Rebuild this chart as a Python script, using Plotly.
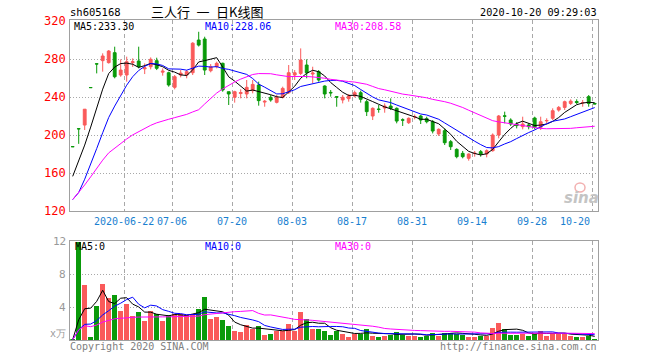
import pandas as pd
import plotly.graph_objects as go

# ---------------- data ----------------
# trading-day index 0..87 (2020-06-09 .. 2020-10-20)
tick_idx = [9, 17, 27, 37, 47, 57, 67, 77, 87]
tick_labels = ["2020-06-22", "07-06", "07-20", "08-03", "08-17", "08-31", "09-14", "09-28", "10-20"]

open_ = [188.1, 207.0, 210.8, 250.3, 275.3, 278.6, 276.5, 287.0, 263.5, 263.5,
         276.5, 278.2, 270.0, 272.2, 278.6, 266.5, 265.9, 250.5, 263.5, 263.5,
         265.9, 300.3, 301.4, 268.0, 272.2, 275.8, 245.9, 240.0, 244.0, 243.5,
         247.0, 253.0, 235.0, 240.0, 234.7, 240.0, 244.9, 263.5, 265.2, 274.0,
         264.5, 267.0, 251.9, 245.2, 240.7, 237.2, 238.6, 241.4, 244.9, 235.4,
         220.3, 227.6, 228.7, 230.8, 228.4, 216.3, 213.3, 219.4, 220.3, 217.5,
         214.3, 201.4, 204.9, 193.3, 185.2, 181.0, 175.8, 180.8, 182.8, 180.3,
         183.8, 200.3, 220.5, 216.1, 211.9, 209.1, 210.9, 218.2, 208.4, 215.2,
         217.9, 226.6, 229.4, 233.6, 235.6, 234.2, 240.7, 233.6]
high = [188.1, 207.0, 227.6, 250.3, 275.3, 286.3, 289.8, 293.3, 280.0, 282.8,
        281.0, 293.3, 275.7, 282.0, 281.7, 270.5, 267.0, 263.5, 268.7, 268.7,
        298.0, 309.0, 303.8, 275.0, 277.5, 276.5, 245.9, 246.9, 248.4, 258.2,
        258.2, 256.5, 237.2, 242.4, 242.4, 251.2, 274.0, 268.7, 291.5, 280.0,
        272.2, 268.7, 252.6, 247.7, 241.4, 242.4, 243.5, 247.0, 247.0, 237.2,
        229.4, 231.9, 233.6, 238.9, 229.4, 217.9, 218.9, 222.0, 221.4, 219.6,
        216.1, 207.3, 207.3, 195.0, 186.3, 183.5, 181.0, 183.5, 184.5, 185.2,
        202.0, 221.4, 224.9, 217.9, 213.9, 219.6, 212.6, 219.6, 219.6, 217.9,
        228.4, 230.8, 236.5, 237.9, 237.9, 237.2, 242.4, 233.6]
low = [188.0, 191.0, 205.6, 250.2, 265.2, 267.0, 275.5, 260.0, 261.7, 256.5,
       272.0, 270.5, 264.5, 269.4, 268.7, 262.8, 251.2, 248.4, 261.0, 260.0,
       263.5, 293.5, 263.5, 266.3, 270.5, 245.9, 231.9, 234.4, 238.9, 238.9,
       244.2, 231.2, 230.1, 235.4, 233.6, 238.9, 243.5, 258.2, 263.5, 260.0,
       254.7, 256.5, 238.9, 240.7, 230.1, 233.6, 235.4, 240.0, 234.4, 220.3,
       216.1, 223.8, 223.8, 226.6, 212.6, 209.8, 211.9, 216.8, 211.9, 212.6,
       202.0, 199.3, 189.8, 184.5, 175.8, 175.8, 173.3, 177.5, 177.5, 176.8,
       182.8, 196.8, 212.6, 209.8, 207.3, 206.3, 206.3, 206.3, 205.6, 212.6,
       216.1, 224.9, 226.6, 231.9, 232.9, 230.1, 230.1, 233.0]
close = [188.0, 206.8, 227.5, 250.2, 275.1, 283.5, 288.7, 261.7, 268.7, 277.5,
         277.5, 272.2, 271.0, 280.0, 270.5, 267.5, 253.0, 261.7, 265.5, 267.0,
         297.0, 295.0, 268.7, 272.2, 275.8, 247.7, 243.5, 245.9, 245.0, 250.5,
         253.6, 236.5, 235.8, 237.2, 240.0, 249.4, 265.9, 265.9, 279.3, 265.9,
         265.5, 258.2, 243.5, 244.7, 240.2, 240.0, 241.4, 244.9, 237.9, 224.9,
         228.4, 227.3, 230.8, 228.4, 215.0, 216.0, 217.9, 219.7, 216.1, 214.3,
         204.5, 206.3, 192.2, 188.0, 177.5, 177.5, 180.3, 181.1, 180.3, 183.8,
         200.3, 220.3, 220.1, 211.9, 210.2, 211.9, 209.1, 208.4, 214.3, 215.6,
         225.9, 229.4, 235.4, 236.0, 234.5, 234.5, 233.5, 233.0]
volume = [0.16, 12.0, 6.76, 0.4, 4.2, 6.88, 5.16, 5.56, 3.64, 4.48,
          3.0, 3.48, 2.44, 3.6, 3.24, 2.44, 3.08, 3.24, 3.24, 3.08,
          3.24, 3.88, 5.32, 2.68, 2.84, 2.52, 1.8, 1.16, 1.08, 1.88,
          1.44, 1.8, 0.76, 0.84, 1.16, 1.2, 2.04, 1.24, 3.48, 2.68,
          1.46, 1.46, 1.24, 0.76, 1.16, 0.84, 0.52, 0.84, 0.84, 1.48,
          0.6, 0.52, 0.6, 0.76, 1.08, 0.76, 0.6, 0.6, 0.52, 0.6,
          1.0, 0.6, 1.0, 1.0, 0.84, 0.76, 0.52, 0.52, 0.6, 0.6,
          1.56, 2.2, 1.48, 0.76, 0.76, 0.84, 0.6, 0.84, 1.24, 0.6,
          0.84, 0.84, 0.84, 0.6, 0.52, 0.52, 0.6, 0.12]

# sessions before the visible window (post-IPO), used only for moving averages
pre_close = [87.7, 96.5, 106.1, 116.7, 128.4, 141.3, 155.4, 170.9]
pre_volume = [0.1, 0.03, 0.03, 0.04, 0.04, 0.05, 0.06, 0.1]

price_ticks = [120, 160, 200, 240, 280, 320]
vol_ticks = [4, 8, 12]

# ---------------- style ----------------
RED = "#FA5A5A"
GREEN = "#0A9A0A"
GRID = "#A8A8A8"
BORDER = "#A0A0A0"
MONO = "DejaVu Sans Mono"
CJK = "Noto Sans CJK SC"
W, H = 660, 360

x = list(range(len(close)))
n_pre = len(pre_close)


def ma(series_pre, series, n):
    s = pd.Series(series_pre + series)
    return s.rolling(n, min_periods=1).mean().iloc[n_pre:].tolist()


fig = go.Figure()

fig.add_trace(go.Candlestick(
    x=x, open=open_, high=high, low=low, close=close,
    increasing=dict(line=dict(color=RED, width=1), fillcolor=RED),
    decreasing=dict(line=dict(color=GREEN, width=1), fillcolor=GREEN),
    whiskerwidth=0, xaxis="x", yaxis="y", hoverinfo="skip"))

for n, col in [(5, "#000000"), (10, "#0000FF"), (30, "#FF00FF")]:
    fig.add_trace(go.Scatter(x=x, y=ma(pre_close, close, n), mode="lines",
                             line=dict(color=col, width=1), xaxis="x", yaxis="y",
                             hoverinfo="skip"))

bar_colors = [RED if c >= o else GREEN for o, c in zip(open_, close)]
fig.add_trace(go.Bar(x=x, y=volume, marker=dict(color=bar_colors, line=dict(width=0)),
                     width=0.78, xaxis="x2", yaxis="y2", hoverinfo="skip"))
for n, col in [(5, "#000000"), (10, "#0000FF"), (30, "#FF00FF")]:
    fig.add_trace(go.Scatter(x=x, y=ma(pre_volume, volume, n), mode="lines",
                             line=dict(color=col, width=1), xaxis="x2", yaxis="y2",
                             hoverinfo="skip"))

xdom = [70.3 / W, 597.7 / W]
grid_x = [i - 0.4 for i in tick_idx]
common_x = dict(domain=xdom, range=[-0.4, 87.5], tickmode="array", tickvals=grid_x,
                showticklabels=False, ticks="", showgrid=True, gridcolor=GRID,
                griddash="4px,3px", gridwidth=1, zeroline=False, showline=True,
                mirror=True, linecolor=BORDER, linewidth=1, fixedrange=True)

fig.update_layout(
    width=W, height=H, margin=dict(l=0, r=0, t=0, b=0),
    paper_bgcolor="white", plot_bgcolor="white", showlegend=False,
    boxgap=0.33, bargap=0,
    xaxis=dict(anchor="y", rangeslider=dict(visible=False), **common_x),
    xaxis2=dict(anchor="y2", matches="x", **common_x),
    yaxis=dict(domain=[(H - 211.3) / H, (H - 20) / H], range=[120, 321.4],
               tickmode="array", tickvals=[160, 200, 240, 280], showticklabels=False,
               ticks="", showgrid=True, gridcolor=GRID, griddash="1px,2px",
               zeroline=False, showline=True, mirror=True, linecolor=BORDER,
               linewidth=1, fixedrange=True),
    yaxis2=dict(domain=[(H - 340.3) / H, (H - 240.5) / H], range=[0, 12.06],
                tickmode="array", tickvals=[4, 8], showticklabels=False, ticks="",
                showgrid=True, gridcolor=GRID, griddash="1px,2px", zeroline=False,
                showline=True, mirror=True, linecolor=BORDER, linewidth=1,
                fixedrange=True),
)

ann = []


def txt(text, x, y, size=10, color="#000000", xanchor="left", family=MONO,
        xref="paper", yref="paper"):
    ann.append(dict(text=text, x=x, y=y, xref=xref, yref=yref, xanchor=xanchor,
                    yanchor="middle", showarrow=False, borderpad=0,
                    font=dict(family=family, size=size, color=color)))


def py(px):
    return (H - px) / H


txt("sh605168", 69 / W, py(12.5), size=10.5)
txt("三人行\u2002一\u2002日K线图", 207 / W, py(12), size=13, family=CJK, xanchor="center")
txt("2020-10-20 09:29:03", 598 / W, py(12.5), size=10.2, xanchor="right")

txt("MA5:233.30", 73 / W, py(26.5), size=10, color="#000000")
txt("MA10:228.06", 204 / W, py(26.5), size=10, color="#0000FF")
txt("MA30:208.58", 334 / W, py(26.5), size=10, color="#FF00FF")

txt("MA5:0", 74 / W, py(246.5), size=10, color="#000000")
txt("MA10:0", 204 / W, py(246.5), size=10, color="#0000FF")
txt("MA30:0", 334 / W, py(246.5), size=10, color="#FF00FF")

for v in price_ticks:
    txt(str(v), 67 / W, v, size=12, color="#FF0000", xanchor="right", yref="y")
for v in vol_ticks:
    txt(str(v), 67 / W, v, size=11, color="#999999", xanchor="right", yref="y2")
txt("x万", 67 / W, py(333), size=10, color="#999999", xanchor="right")

for i, lab in zip(tick_idx, tick_labels):
    anchor = "right" if i == tick_idx[-1] else "center"
    ann.append(dict(text=lab, x=i - 0.4, y=py(221.5), xref="x", yref="paper",
                    xanchor=anchor, yanchor="middle", showarrow=False,
                    font=dict(family=MONO, size=10, color="#1A7FD0")))

txt("Copyright 2020 SINA.COM", 69 / W, py(346.5), size=10, color="#808080")
txt("http://finance.sina.com.cn", 598 / W, py(346.5), size=10, color="#808080",
    xanchor="right")

# watermark
txt("<b><i>sina</i></b>", 581 / W, py(198), size=15, color="#C4C4C4",
    xanchor="center", family="DejaVu Sans")

fig.update_layout(annotations=ann)
fig.add_shape(type="circle", xref="paper", yref="paper",
              x0=575 / W, x1=585 / W, y0=py(192), y1=py(183),
              line=dict(color="#F2B0B0", width=1.5))

fig.write_html("out.html", config={"displayModeBar": False},
               post_script="document.body.style.margin='0px';document.body.style.overflow='hidden';")
